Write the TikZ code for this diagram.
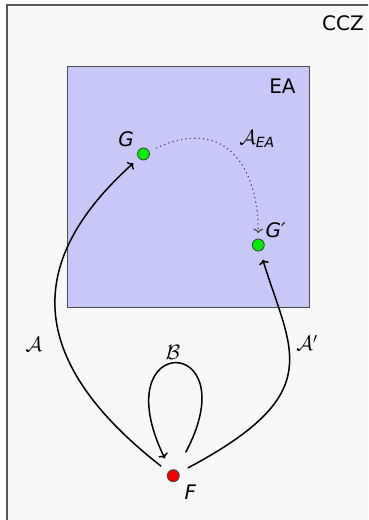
\documentclass[tikz,border=0pt]{standalone}
\usepackage{amsmath}
\usepackage{fontspec}
\setmainfont{DejaVu Sans}
\usetikzlibrary{positioning,arrows.meta}

\definecolor{cczfill}{RGB}{247,247,247}
\definecolor{cczline}{RGB}{85,85,85}
\definecolor{eafill}{RGB}{200,200,248}
\definecolor{dotgreen}{RGB}{0,238,0}
\definecolor{dotred}{RGB}{238,0,0}

\begin{document}
\begin{tikzpicture}[
  x=1pt, y=1pt,
  >={To[length=4.5pt, width=10pt]},
  txt/.style={font=\fontsize{20}{24}\selectfont, inner sep=0pt},
  pt/.style={circle, draw=black!75, line width=0.8pt, minimum size=12pt, inner sep=0pt},
  map/.style={->, line width=1.5pt, shorten <=9pt, shorten >=7.5pt},
  eamap/.style={->, line width=1.2pt, draw=black!70, dash pattern=on 1.2pt off 3.2pt,
    shorten <=7.5pt, shorten >=5.5pt}
]
\useasboundingbox (0,0) rectangle (368,-520);
\clip (0,0) rectangle (368,-520);

% CCZ class
\draw[cczline, line width=1.5pt, fill=cczfill] (7,-5) rectangle (380,-530);
\node[txt] (ccz) at (343,-23.5) {CCZ};

% EA class
\draw[black!70, line width=1pt, fill=eafill] (67.5,-66.5) rectangle (309.5,-307.5);
\node[txt] (ea) at (282.5,-86) {EA};

% functions
\node[pt, fill=dotgreen] (G) at (143.5,-154) {};
\node[pt, fill=dotgreen] (Gp) at (258.3,-245) {};
\node[pt, fill=dotred] (F) at (173.3,-475.7) {};

\node[txt, above left=2pt and 5pt of G] (Glab) {\textit{G}};
\node[txt, above right=2pt and 2.5pt of Gp] (Gplab) {\textit{G′}};
\node[txt, below right=4.5pt and 6.5pt of F] (Flab) {\textit{F}};

% equivalences
\draw[map] (F) to[out=142, in=222, out distance=175pt, in distance=160pt] (G);
\node[txt] (A) at (34,-344) {$\mathcal{A}$};

\draw[map, shorten <=10pt, shorten >=9pt] (F) to[out=28, in=287, out distance=170pt, in distance=105pt] (Gp);
\node[txt] (Ap) at (307,-343) {$\mathcal{A}'$};

\draw[map, shorten <=20pt, shorten >=13pt] (F) to[out=62, in=116, distance=155pt] (F);
\node[txt] (B) at (173,-352) {$\mathcal{B}$};

\draw[eamap] (G) to[out=25, in=90, out distance=85pt, in distance=70pt] (Gp);
\node[txt] (Aea) at (257,-139) {$\mathcal{A}_{\textit{EA}}$};

\end{tikzpicture}
\end{document}
